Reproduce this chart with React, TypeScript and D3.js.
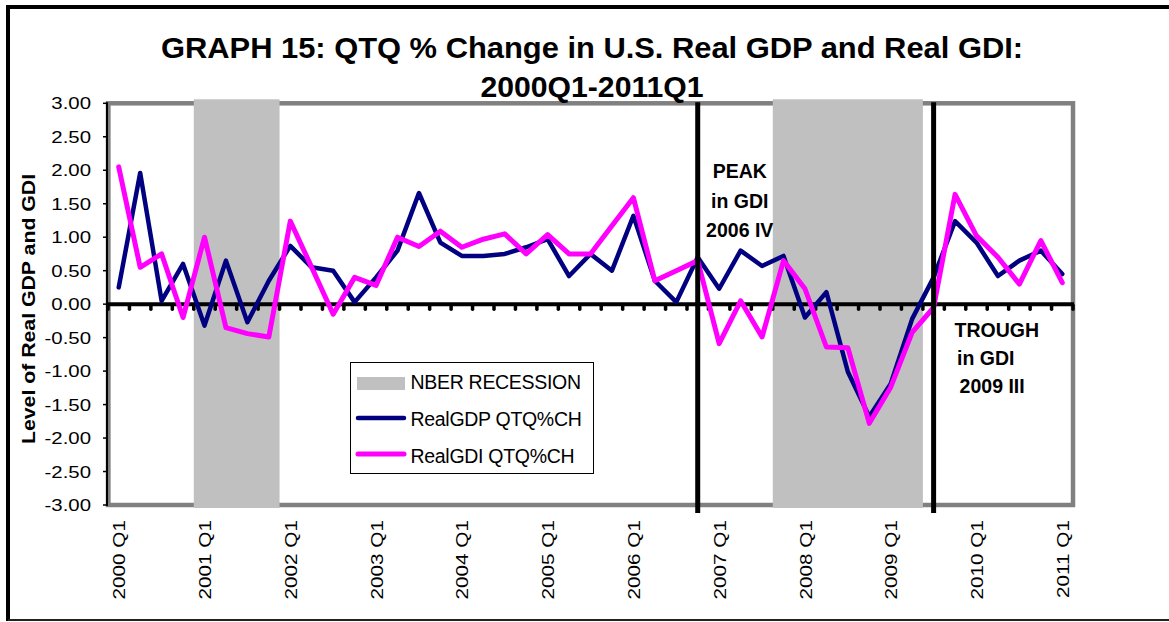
import React from "react";
import * as d3 from "d3";

const categories = [
  "2000 Q1","2000 Q2","2000 Q3","2000 Q4",
  "2001 Q1","2001 Q2","2001 Q3","2001 Q4",
  "2002 Q1","2002 Q2","2002 Q3","2002 Q4",
  "2003 Q1","2003 Q2","2003 Q3","2003 Q4",
  "2004 Q1","2004 Q2","2004 Q3","2004 Q4",
  "2005 Q1","2005 Q2","2005 Q3","2005 Q4",
  "2006 Q1","2006 Q2","2006 Q3","2006 Q4",
  "2007 Q1","2007 Q2","2007 Q3","2007 Q4",
  "2008 Q1","2008 Q2","2008 Q3","2008 Q4",
  "2009 Q1","2009 Q2","2009 Q3","2009 Q4",
  "2010 Q1","2010 Q2","2010 Q3","2010 Q4",
  "2011 Q1",
];

const gdpValues = [
  0.25, 1.96, 0.05, 0.60, -0.32, 0.65, -0.27, 0.35, 0.87, 0.55,
  0.50, 0.03, 0.40, 0.80, 1.66, 0.92, 0.72, 0.72, 0.75, 0.85,
  0.97, 0.42, 0.75, 0.50, 1.32, 0.35, 0.03, 0.70, 0.23, 0.80,
  0.57, 0.72, -0.20, 0.18, -1.01, -1.68, -1.19, -0.22, 0.40, 1.24,
  0.92, 0.42, 0.65, 0.80, 0.45,
];

const gdiValues = [
  2.05, 0.55, 0.75, -0.20, 1.00, -0.35, -0.44, -0.49, 1.24, 0.55,
  -0.15, 0.40, 0.28, 1.00, 0.86, 1.09, 0.85, 0.97, 1.05, 0.75,
  1.04, 0.75, 0.75, 1.17, 1.59, 0.35, 0.50, 0.65, -0.59, 0.05,
  -0.49, 0.65, 0.23, -0.64, -0.65, -1.78, -1.24, -0.42, -0.05, 1.64,
  1.02, 0.70, 0.30, 0.95, 0.32,
];

const yTicks = [3, 2.5, 2, 1.5, 1, 0.5, 0, -0.5, -1, -1.5, -2, -2.5, -3];
const xTickLabels = [
  "2000 Q1","2001 Q1","2002 Q1","2003 Q1","2004 Q1","2005 Q1",
  "2006 Q1","2007 Q1","2008 Q1","2009 Q1","2010 Q1","2011 Q1",
];
const recessions = [
  ["2001 Q1", "2001 Q4"],
  ["2007 Q4", "2009 Q2"],
];
const peakCategory = "2006 Q4";
const troughCategory = "2009 Q3";
const peakLines = ["PEAK", "in GDI", "2006 IV"];
const troughLines = ["TROUGH", "in GDI", "2009 III"];
const titleLines = [
  "GRAPH 15: QTQ % Change in U.S. Real GDP and Real GDI:",
  "2000Q1-2011Q1",
];
const legendLabels = ["NBER RECESSION", "RealGDP QTQ%CH", "RealGDI QTQ%CH"];

const FONT = "Arial, 'Liberation Sans', Helvetica, sans-serif";
const NAVY = "#000080";
const MAGENTA = "#FF00FF";
const GRAY = "#C0C0C0";

export default function App() {
  const W = 1169;
  const H = 622;
  const left = 108;
  const right = 1073;
  const top = 103.3;
  const bottom = 505;

  const x = d3.scaleBand<string>().domain(categories).range([left, right]).padding(0);
  const y = d3.scaleLinear().domain([-3, 3]).range([bottom, top]);
  const cx = (c: string) => (x(c) as number) + x.bandwidth() / 2;

  const line = d3
    .line<number>()
    .x((_, i) => cx(categories[i]))
    .y((d) => y(d));

  const y0 = y(0);
  const peakX = cx(peakCategory);
  const troughX = cx(troughCategory);

  return (
    <svg
      width={W}
      height={H}
      style={{ position: "absolute", left: 0, top: 0, background: "#fff" }}
      fontFamily={FONT}
    >
      <rect x={0} y={0} width={W} height={H} fill="#fff" />
      {/* outer frame */}
      <line x1={8} y1={5} x2={8} y2={621} stroke="#000" strokeWidth={4} />
      <line x1={6} y1={7} x2={W} y2={7} stroke="#000" strokeWidth={4} />
      <line x1={8} y1={620} x2={W} y2={620} stroke="#222" strokeWidth={2} />

      {/* plot area border */}
      <rect
        x={left}
        y={top}
        width={right - left}
        height={bottom - top}
        fill="#fff"
        stroke="#808080"
        strokeWidth={4.5}
      />

      {/* recession shading */}
      {recessions.map(([s, e], i) => (
        <rect
          key={i}
          x={x(s) as number}
          y={top - 4}
          width={(x(e) as number) + x.bandwidth() - (x(s) as number)}
          height={bottom - top + 7}
          fill={GRAY}
        />
      ))}

      {/* left axis */}
      <line x1={left - 1} y1={top - 1} x2={left - 1} y2={bottom + 1} stroke="#000" strokeWidth={2} />
      <line x1={left + 1.5} y1={top} x2={left + 1.5} y2={bottom} stroke="#808080" strokeWidth={2} />
      {yTicks.map((t) => (
        <g key={t}>
          <line x1={left - 5} x2={left - 1} y1={y(t)} y2={y(t)} stroke="#000" strokeWidth={1.5} />
          <text
            transform={`translate(91,${y(t)}) scale(1.2,1)`}
            textAnchor="end"
            dy="0.36em"
            fontSize={17}
            fill="#000"
          >
            {t.toFixed(2)}
          </text>
        </g>
      ))}

      {/* zero line with dot ticks */}
      {d3.range(categories.length + 1).map((k) => {
        const xx = left + k * x.step();
        return (
          <line
            key={k}
            x1={xx}
            x2={xx}
            y1={y0 + 1}
            y2={y0 + 5}
            stroke="#000"
            strokeWidth={3.5}
            strokeLinecap="round"
          />
        );
      })}
      <line x1={left - 1} x2={right + 1} y1={y0} y2={y0} stroke="#000" strokeWidth={4} />

      {/* x labels */}
      {xTickLabels.map((c) => (
        <text
          key={c}
          transform={`translate(${cx(c) + 0.5},520) rotate(-90) scale(1.22,1)`}
          textAnchor="end"
          dy="0.36em"
          fontSize={17}
          fill="#000"
        >
          {c}
        </text>
      ))}

      {/* series */}
      <path d={line(gdpValues) || ""} fill="none" stroke={NAVY} strokeWidth={4.5} strokeLinejoin="round" strokeLinecap="round" />
      <path d={line(gdiValues) || ""} fill="none" stroke={MAGENTA} strokeWidth={5} strokeLinejoin="round" strokeLinecap="round" />

      {/* peak/trough lines */}
      <line x1={peakX} x2={peakX} y1={top - 1} y2={bottom + 8} stroke="#000" strokeWidth={5} />
      <line x1={troughX} x2={troughX} y1={top - 1} y2={bottom + 8} stroke="#000" strokeWidth={5} />

      {/* annotations */}
      {peakLines.map((s, i) => (
        <text
          key={s}
          x={peakX + 42}
          y={178 + i * 29.5}
          textAnchor="middle"
          fontSize={19.5}
          fontWeight="bold"
          fill="#000"
        >
          {s}
        </text>
      ))}
      {troughLines.map((s, i) => (
        <text
          key={s}
          x={troughX + 21 + i * 2.5}
          y={337 + i * 28}
          textAnchor="start"
          fontSize={19.5}
          fontWeight="bold"
          fill="#000"
        >
          {s}
        </text>
      ))}

      {/* legend */}
      <g>
        <rect x={350.5} y={362.5} width={243} height={111} fill="#fff" stroke="#000" strokeWidth={1} />
        <rect x={357} y={377} width={48} height={13} fill={GRAY} />
        <line x1={358} x2={404} y1={418} y2={418} stroke={NAVY} strokeWidth={4.5} strokeLinecap="round" />
        <line x1={358} x2={404} y1={454} y2={454} stroke={MAGENTA} strokeWidth={5} strokeLinecap="round" />
        {legendLabels.map((s, i) => (
          <text key={s} x={410.5} y={389 + i * 37} fontSize={19.5} fill="#000" letterSpacing={-0.3}>
            {s}
          </text>
        ))}
      </g>

      {/* title */}
      <text
        transform={`translate(592,58) scale(1.065,1)`}
        textAnchor="middle"
        fontSize={29}
        fontWeight="bold"
        fill="#000"
      >
        {titleLines[0]}
      </text>
      <text
        transform={`translate(592,97) scale(1.04,1)`}
        textAnchor="middle"
        fontSize={29}
        fontWeight="bold"
        fill="#000"
      >
        {titleLines[1]}
      </text>

      {/* y axis title */}
      <text
        transform={`translate(35,309) rotate(-90) scale(1.15,1)`}
        textAnchor="middle"
        fontSize={18.5}
        fontWeight="bold"
        fill="#000"
      >
        Level of Real GDP and GDI
      </text>
    </svg>
  );
}
